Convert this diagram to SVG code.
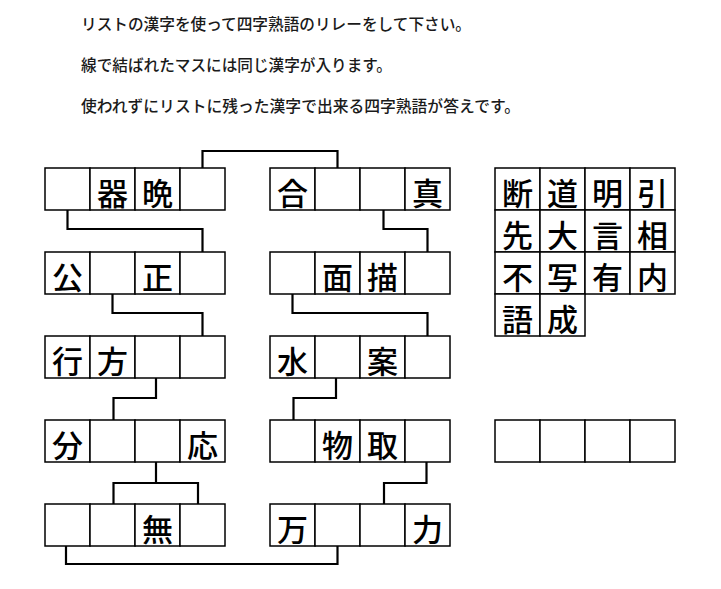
<svg xmlns="http://www.w3.org/2000/svg" width="721" height="589" viewBox="0 0 721 589">
<style>
.c{fill:#fff;stroke:#000;stroke-width:1.5}
.k{font-family:"Noto Sans CJK JP","Noto Sans CJK SC",sans-serif;font-size:31px;font-weight:500;fill:#000;text-anchor:middle}
.t{font-family:"Noto Sans CJK JP","Noto Sans CJK SC",sans-serif;font-size:15.6px;fill:#1a1a1a;font-weight:500}
.ln{fill:none;stroke:#000;stroke-width:2.2}
</style>
<defs>
<g id="row4">
<rect class="c" x="0" y="0" width="45" height="42"/>
<rect class="c" x="45" y="0" width="45" height="42"/>
<rect class="c" x="90" y="0" width="45" height="42"/>
<rect class="c" x="135" y="0" width="45" height="42"/>
</g>
</defs>
<rect width="721" height="589" fill="#fff"/>
<g id="instructions">
<text class="t" x="81" y="30" textLength="390" lengthAdjust="spacingAndGlyphs">リストの漢字を使って四字熟語のリレーをして下さい。</text>
<text class="t" x="81" y="70.5" textLength="311" lengthAdjust="spacingAndGlyphs">線で結ばれたマスには同じ漢字が入ります。</text>
<text class="t" x="81" y="112" textLength="439" lengthAdjust="spacingAndGlyphs">使われずにリストに残った漢字で出来る四字熟語が答えです。</text>
</g>
<g id="connectors">
<polyline class="ln" points="202.5,168 202.5,151 337.5,151 337.5,168"/>
<polyline class="ln" points="67.5,210 67.5,229 202.5,229 202.5,252"/>
<polyline class="ln" points="383.5,210 383.5,229 427.5,229 427.5,252"/>
<polyline class="ln" points="112.5,294 112.5,313 202.5,313 202.5,336"/>
<polyline class="ln" points="292.5,294 292.5,313 427.5,313 427.5,336"/>
<polyline class="ln" points="156,378 156,398 113.5,398 113.5,420"/>
<polyline class="ln" points="336,378 336,398 293.5,398 293.5,420"/>
<polyline class="ln" points="156,462 156,483"/>
<polyline class="ln" points="113.5,504 113.5,483 198,483 198,504"/>
<polyline class="ln" points="426.5,462 426.5,483 384,483 384,504"/>
<polyline class="ln" points="66,546 66,564 337.5,564 337.5,546"/>
</g>
<g id="w1L"><use href="#row4" x="45" y="168"/><text class="k" x="112.5" y="204.5">器</text><text class="k" x="157.5" y="204.5">晩</text></g>
<g id="w1R"><use href="#row4" x="270" y="168"/><text class="k" x="292.5" y="204.5">合</text><text class="k" x="427.5" y="204.5">真</text></g>
<g id="w2L"><use href="#row4" x="45" y="252"/><text class="k" x="67.5" y="288.5">公</text><text class="k" x="157.5" y="288.5">正</text></g>
<g id="w2R"><use href="#row4" x="270" y="252"/><text class="k" x="337.5" y="288.5">面</text><text class="k" x="382.5" y="288.5">描</text></g>
<g id="w3L"><use href="#row4" x="45" y="336"/><text class="k" x="67.5" y="372.5">行</text><text class="k" x="112.5" y="372.5">方</text></g>
<g id="w3R"><use href="#row4" x="270" y="336"/><text class="k" x="292.5" y="372.5">水</text><text class="k" x="382.5" y="372.5">案</text></g>
<g id="w4L"><use href="#row4" x="45" y="420"/><text class="k" x="67.5" y="456.5">分</text><text class="k" x="202.5" y="456.5">応</text></g>
<g id="w4R"><use href="#row4" x="270" y="420"/><text class="k" x="337.5" y="456.5">物</text><text class="k" x="382.5" y="456.5">取</text></g>
<g id="w5L"><use href="#row4" x="45" y="504"/><text class="k" x="157.5" y="540.5">無</text></g>
<g id="w5R"><use href="#row4" x="270" y="504"/><text class="k" x="292.5" y="540.5">万</text><text class="k" x="427.5" y="540.5">力</text></g>
<g id="kanjiList">
<use href="#row4" x="495" y="168"/>
<use href="#row4" x="495" y="210"/>
<use href="#row4" x="495" y="252"/>
<rect class="c" x="495" y="294" width="45" height="42"/>
<rect class="c" x="540" y="294" width="45" height="42"/>
<text class="k" x="517.5" y="204.5">断</text><text class="k" x="562.5" y="204.5">道</text><text class="k" x="607.5" y="204.5">明</text><text class="k" x="652.5" y="204.5">引</text>
<text class="k" x="517.5" y="246.5">先</text><text class="k" x="562.5" y="246.5">大</text><text class="k" x="607.5" y="246.5">言</text><text class="k" x="652.5" y="246.5">相</text>
<text class="k" x="517.5" y="288.5">不</text><text class="k" x="562.5" y="288.5">写</text><text class="k" x="607.5" y="288.5">有</text><text class="k" x="652.5" y="288.5">内</text>
<text class="k" x="517.5" y="330.5">語</text><text class="k" x="562.5" y="330.5">成</text>
</g>
<g id="answer"><use href="#row4" x="495" y="420"/></g>
</svg>
